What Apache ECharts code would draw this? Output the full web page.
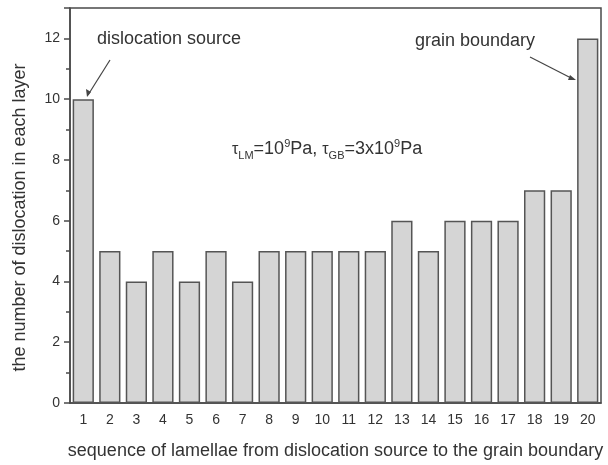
<!DOCTYPE html>
<html><head><meta charset="utf-8">
<script src="https://cdn.jsdelivr.net/npm/echarts@6/dist/echarts.min.js"></script>
<style>html,body{margin:0;padding:0;background:#fff}#c{width:608px;height:465px}</style>
</head><body><div id="c"></div>
<script>
const categories = ['1','2','3','4','5','6','7','8','9','10','11','12','13','14','15','16','17','18','19','20'];
const dislocations = [10,5,4,5,4,5,4,5,5,5,5,5,6,5,6,6,6,7,7,12];
const yTicks = [0,2,4,6,8,10,12];

const chart = echarts.init(document.getElementById('c'));
const font = 'Liberation Sans, Arial, sans-serif';
const ax = '#4a4a4a';
chart.setOption({
  animation: false,
  backgroundColor: '#fff',
  grid: {left: 70, right: 7, top: 8, bottom: 61, show: true, borderColor: ax, borderWidth: 1.5},
  xAxis: [{
    type: 'category', data: categories,
    axisLine: {lineStyle: {color: ax, width: 1.5}},
    axisTick: {alignWithLabel: true, length: 6, lineStyle: {color: ax, width: 1.5}},
    axisLabel: {color: '#333', fontFamily: font, fontSize: 14, margin: 10},
    name: 'sequence of lamellae from dislocation source to the grain boundary',
    nameLocation: 'middle', nameGap: 39,
    nameTextStyle: {color: '#333', fontFamily: font, fontSize: 18}
  }, {
    type: 'category', data: categories, position: 'bottom',
    axisLine: {show: false},
    axisTick: {length: 4, lineStyle: {color: ax, width: 1.5}},
    axisLabel: {show: false}
  }],
  yAxis: {
    type: 'value', min: 0, max: 13, interval: 2,
    axisLine: {show: true, lineStyle: {color: ax, width: 1.5}},
    axisTick: {show: true, length: 6, lineStyle: {color: ax, width: 1.5}},
    minorTick: {show: true, splitNumber: 2, length: 4, lineStyle: {color: ax, width: 1.5}},
    splitLine: {show: false},
    axisLabel: {color: '#333', fontFamily: font, fontSize: 14, margin: 10,
      formatter: v => yTicks.includes(v) ? String(v) : ''},
    name: 'the number of dislocation in each layer',
    nameLocation: 'middle', nameGap: 41,
    nameTextStyle: {color: '#333', fontFamily: font, fontSize: 18, padding: [0, 24, 0, 0]}
  },
  series: [{
    type: 'bar', data: dislocations, barWidth: '80%',
    itemStyle: {color: '#d5d5d5', borderColor: '#555', borderWidth: 1.5}
  }],
  graphic: [
    {type: 'text', left: 97, top: 30, style: {text: 'dislocation source', fill: '#333', font: '18px ' + font}},
    {type: 'text', left: 415, top: 32, style: {text: 'grain boundary', fill: '#333', font: '18px ' + font}},
    {type: 'line', shape: {x1: 110, y1: 60, x2: 88, y2: 95}, style: {stroke: '#444', lineWidth: 1.2}},
    {type: 'polygon', shape: {points: [[87,97],[86,89],[91,92]]}, style: {fill: '#444'}},
    {type: 'line', shape: {x1: 530, y1: 57, x2: 573, y2: 79}, style: {stroke: '#444', lineWidth: 1.2}},
    {type: 'polygon', shape: {points: [[576,80],[568,80],[570,75]]}, style: {fill: '#444'}},
    {type: 'text', left: 232, top: 138, style: {
      text: '{t|τ}{s|LM}{n|=10}{p|9}{n|Pa, }{t|τ}{s|GB}{n|=3x10}{p|9}{n|Pa}',
      rich: {
        t: {fontSize: 16, fontFamily: font, fill: '#333'},
        n: {fontSize: 18, fontFamily: font, fill: '#333'},
        s: {fontSize: 11, fontFamily: font, fill: '#333', padding: [12,0,0,0]},
        p: {fontSize: 11, fontFamily: font, fill: '#333', padding: [0,0,12,0]}
      }}}
  ]
});
</script></body></html>
